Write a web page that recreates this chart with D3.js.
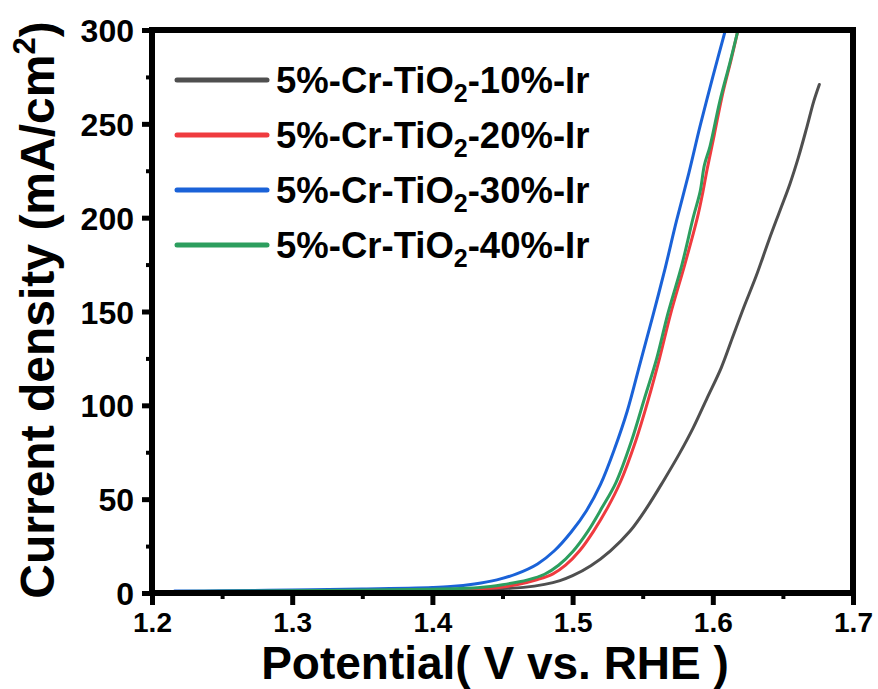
<!DOCTYPE html>
<html>
<head>
<meta charset="utf-8">
<script src="https://cdn.jsdelivr.net/npm/d3@7"></script>
<style>
  html, body { margin: 0; padding: 0; background: #ffffff; }
  svg { display: block; }
  text { font-family: "Liberation Sans", Arial, sans-serif; font-weight: bold; fill: #000; }
</style>
</head>
<body>
<svg id="chart" width="878" height="689"></svg>
<script>
// LSV polarization curves: potential (V vs. RHE) and current density (mA/cm2)
const seriesNames = ["5%-Cr-TiO2-10%-Ir", "5%-Cr-TiO2-20%-Ir", "5%-Cr-TiO2-30%-Ir", "5%-Cr-TiO2-40%-Ir"];
const seriesColors = ["#4f4f4f", "#ef3b3f", "#1a62d8", "#2c9e5e"];

const potential10 = [1.216, 1.30, 1.40, 1.44, 1.465, 1.48, 1.491, 1.50, 1.513, 1.527, 1.541, 1.553, 1.565, 1.576, 1.586, 1.596, 1.606, 1.614, 1.622, 1.631, 1.640, 1.648, 1.655, 1.661, 1.667, 1.672, 1.676];
const current10   = [0.5, 0.8, 1.2, 2.0, 3.0, 4.6, 6.6, 9.2, 14.5, 22.5, 33, 45.5, 60, 74, 88, 104, 120, 136, 152, 169, 188, 204, 218, 232, 248, 262, 271];

const potential20 = [1.216, 1.30, 1.40, 1.446, 1.46, 1.475, 1.486, 1.495, 1.505, 1.515, 1.525, 1.534, 1.545, 1.554, 1.562, 1.570, 1.580, 1.589, 1.593, 1.596, 1.601, 1.607, 1.613, 1.618];
const current20   = [0.6, 1.0, 1.6, 2.8, 4.4, 7.2, 10.2, 14.8, 22.5, 33, 45.5, 59, 81, 103, 125, 149, 175, 200, 214, 226, 244, 266, 284, 300];

const potential30 = [1.216, 1.25, 1.30, 1.35, 1.40, 1.413, 1.43, 1.446, 1.46, 1.475, 1.487, 1.499, 1.51, 1.52, 1.53, 1.539, 1.548, 1.557, 1.566, 1.574, 1.583, 1.591, 1.600, 1.609];
const current30   = [1.0, 1.2, 1.6, 2.1, 2.9, 3.4, 4.8, 7.0, 10.2, 15.5, 22.5, 32.5, 44, 58, 77, 97, 122, 147, 173, 198, 224, 249, 275, 300];

const potential40 = [1.216, 1.30, 1.40, 1.434, 1.45, 1.468, 1.48, 1.49, 1.50, 1.511, 1.521, 1.531, 1.542, 1.551, 1.560, 1.568, 1.578, 1.586, 1.591, 1.594, 1.598, 1.605, 1.612, 1.618];
const current40   = [0.8, 1.2, 2.0, 2.9, 4.4, 7.0, 10.0, 14.8, 22.0, 33, 45.5, 59, 81, 103, 125, 149, 175, 200, 214, 228, 238, 262, 282, 300];

const xTicks = [1.2, 1.3, 1.4, 1.5, 1.6, 1.7];
const yTicks = [0, 50, 100, 150, 200, 250, 300];
const xMinorTicks = [1.25, 1.35, 1.45, 1.55, 1.65];
const yMinorTicks = [25, 75, 125, 175, 225, 275];

const potentials = [potential10, potential20, potential30, potential40];
const currents = [current10, current20, current30, current40];

const svg = d3.select("#chart");
const plotLeft = 152, plotRight = 853, plotTop = 30, plotBottom = 593;

const x = d3.scaleLinear().domain([1.2, 1.7]).range([plotLeft, plotRight]);
const y = d3.scaleLinear().domain([0, 300]).range([plotBottom, plotTop]);

svg.append("defs").append("clipPath").attr("id", "plotClip")
  .append("rect").attr("x", plotLeft).attr("y", plotTop)
  .attr("width", plotRight - plotLeft).attr("height", plotBottom - plotTop);

// curves
const line = d3.line().x(d => x(d[0])).y(d => y(d[1])).curve(d3.curveCatmullRom.alpha(0.5));
const curveGroup = svg.append("g").attr("clip-path", "url(#plotClip)");
seriesNames.forEach((name, i) => {
  const pts = potentials[i].map((v, k) => [v, currents[i][k]]);
  curveGroup.append("path")
    .attr("d", line(pts))
    .attr("fill", "none")
    .attr("stroke", seriesColors[i])
    .attr("stroke-width", 3)
    .attr("stroke-linejoin", "round")
    .attr("stroke-linecap", "round");
});

// axes: major ticks outside, minor nubs
const axisStroke = 6;
const xAxis = d3.axisBottom(x).tickValues(xTicks).tickFormat(d3.format(".1f")).tickSize(12).tickPadding(7);
const gx = svg.append("g").attr("transform", `translate(0,${plotBottom})`).call(xAxis);
gx.select(".domain").remove();
gx.selectAll(".tick line").attr("stroke", "#000").attr("stroke-width", 5);
gx.selectAll(".tick text").attr("font-size", 28).attr("font-family", "Liberation Sans, Arial, sans-serif").attr("font-weight", "bold");

const xMinor = d3.axisBottom(x).tickValues(xMinorTicks).tickFormat("").tickSize(6);
const gxm = svg.append("g").attr("transform", `translate(0,${plotBottom})`).call(xMinor);
gxm.select(".domain").remove();
gxm.selectAll(".tick line").attr("stroke", "#000").attr("stroke-width", 4);

const yAxis = d3.axisLeft(y).tickValues(yTicks).tickFormat(d3.format("d")).tickSize(10).tickPadding(8);
const gy = svg.append("g").attr("transform", `translate(${plotLeft},0)`).call(yAxis);
gy.select(".domain").remove();
gy.selectAll(".tick line").attr("stroke", "#000").attr("stroke-width", 5);
gy.selectAll(".tick text").attr("font-size", 32).attr("font-family", "Liberation Sans, Arial, sans-serif").attr("font-weight", "bold")
  .attr("dy", "0.36em");

const yMinor = d3.axisLeft(y).tickValues(yMinorTicks).tickFormat("").tickSize(6);
const gym = svg.append("g").attr("transform", `translate(${plotLeft},0)`).call(yMinor);
gym.select(".domain").remove();
gym.selectAll(".tick line").attr("stroke", "#000").attr("stroke-width", 4);

// frame
svg.append("rect")
  .attr("x", plotLeft).attr("y", plotTop)
  .attr("width", plotRight - plotLeft).attr("height", plotBottom - plotTop)
  .attr("fill", "none").attr("stroke", "#000").attr("stroke-width", axisStroke);

// legend
const legendX1 = 177, legendX2 = 267, legendY0 = 80, legendStep = 55;
seriesNames.forEach((name, i) => {
  const yy = legendY0 + i * legendStep;
  svg.append("line")
    .attr("x1", legendX1).attr("x2", legendX2).attr("y1", yy).attr("y2", yy)
    .attr("stroke", seriesColors[i]).attr("stroke-width", 5).attr("stroke-linecap", "round");
  const parts = name.split("TiO2");
  const t = svg.append("text").attr("x", 276).attr("y", yy + 13).attr("font-size", 36.5);
  t.append("tspan").text(parts[0] + "TiO");
  t.append("tspan").attr("font-size", 25).attr("dy", 9).text("2");
  t.append("tspan").attr("dy", -9).text(parts[1]);
});

// axis titles
svg.append("text")
  .attr("x", 495).attr("y", 679)
  .attr("text-anchor", "middle").attr("font-size", 46)
  .text("Potential( V vs. RHE )");

const yt = svg.append("text")
  .attr("transform", "translate(54,310) rotate(-90)")
  .attr("text-anchor", "middle").attr("font-size", 48);
yt.append("tspan").text("Current density (mA/cm");
yt.append("tspan").attr("font-size", 31).attr("dy", -19).text("2");
yt.append("tspan").attr("dy", 19).text(")");
</script>
</body>
</html>
